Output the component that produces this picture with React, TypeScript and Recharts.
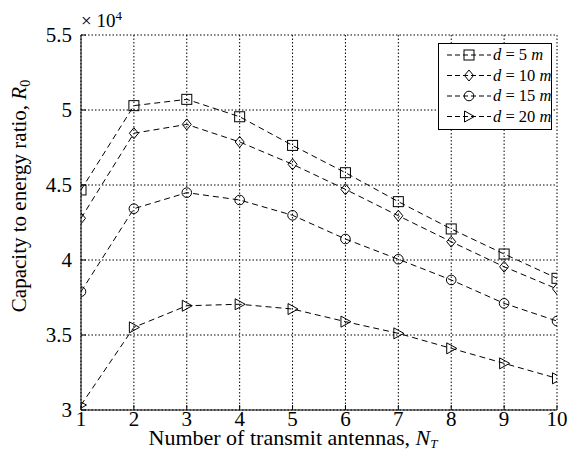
import React from 'react';
import { LineChart, Line, XAxis, YAxis, CartesianGrid, Customized } from 'recharts';

// Number of transmit antennas N_T
const antennas = [1, 2, 3, 4, 5, 6, 7, 8, 9, 10];

// Capacity-to-energy ratio R_0 for each transmitter distance d
const capD5 = [44670, 50290, 50710, 49550, 47640, 45820, 43890, 42070, 40400, 38780];
const capD10 = [42780, 48450, 49040, 47870, 46380, 44710, 42950, 41220, 39550, 38070];
const capD15 = [37890, 43420, 44490, 44000, 42980, 41400, 40050, 38670, 37110, 35930];
const capD20 = [30330, 35510, 36950, 37050, 36730, 35890, 35110, 34110, 33110, 32110];

const distances = [5, 10, 15, 20];
const yTicks = [30000, 35000, 40000, 45000, 50000, 55000];

const data = antennas.map((n, i) => ({
  n,
  d5: capD5[i],
  d10: capD10[i],
  d15: capD15[i],
  d20: capD20[i],
}));

const SERIF = { fontFamily: '"Liberation Serif", "DejaVu Serif", "Times New Roman", Times, serif' };
const INK = '#000';
const DASH = '6 4';

type MarkerKind = 'square' | 'diamond' | 'circle' | 'triangle';

function Marker({ kind, cx, cy }: { kind: MarkerKind; cx: number; cy: number }) {
  const common = { fill: 'none', stroke: INK, strokeWidth: 1 };
  if (kind === 'square') return <rect x={cx - 5} y={cy - 5} width={10} height={10} {...common} />;
  if (kind === 'diamond')
    return (
      <polygon
        points={`${cx},${cy - 5.5} ${cx + 4.5},${cy} ${cx},${cy + 5.5} ${cx - 4.5},${cy}`}
        {...common}
      />
    );
  if (kind === 'circle') return <circle cx={cx} cy={cy} r={4.8} {...common} />;
  return (
    <polygon
      points={`${cx - 4.5},${cy - 5.5} ${cx - 4.5},${cy + 5.5} ${cx + 5.5},${cy}`}
      {...common}
    />
  );
}

const makeDot = (kind: MarkerKind) => (props: any) => {
  const { cx, cy, index } = props;
  if (cx == null || cy == null) return <g key={`m-${kind}-${index}`} />;
  return (
    <g key={`m-${kind}-${index}`}>
      <Marker kind={kind} cx={cx} cy={cy} />
    </g>
  );
};

const seriesDefs: { key: string; kind: MarkerKind; dist: number }[] = [
  { key: 'd5', kind: 'square', dist: distances[0] },
  { key: 'd10', kind: 'diamond', dist: distances[1] },
  { key: 'd15', kind: 'circle', dist: distances[2] },
  { key: 'd20', kind: 'triangle', dist: distances[3] },
];

// Bottom axis: label below, small tick pointing into the plot
const BottomTick = (props: any) => {
  const { x, y, payload } = props;
  return (
    <g>
      <line x1={x} y1={y} x2={x} y2={y - 5} stroke={INK} strokeWidth={1} />
      <text x={x} y={y + 16} textAnchor="middle" style={SERIF} fontSize={21} fill={INK}>
        {payload.value}
      </text>
    </g>
  );
};

// Left axis: label to the left, inward tick
const LeftTick = (props: any) => {
  const { x, y, payload } = props;
  return (
    <g>
      <line x1={x} y1={y} x2={x + 5} y2={y} stroke={INK} strokeWidth={1} />
      <text x={x - 9} y={y} dy="0.355em" textAnchor="end" style={SERIF} fontSize={21} fill={INK}>
        {payload.value / 10000}
      </text>
    </g>
  );
};

const TopTick = (props: any) => {
  const { x, y } = props;
  return <line x1={x} y1={y} x2={x} y2={y + 5} stroke={INK} strokeWidth={1} />;
};

const RightTick = (props: any) => {
  const { x, y } = props;
  return <line x1={x} y1={y} x2={x - 5} y2={y} stroke={INK} strokeWidth={1} />;
};

function LegendBox({ left, top }: { left: number; top: number }) {
  const rowY = [12, 32.5, 53, 73.5];
  return (
    <g transform={`translate(${left},${top})`}>
      <rect x={0.5} y={0.5} width={113} height={86} fill="#fff" stroke={INK} strokeWidth={1} />
      {seriesDefs.map((s, i) => (
        <g key={s.key}>
          <line
            x1={9}
            x2={53}
            y1={rowY[i]}
            y2={rowY[i]}
            stroke={INK}
            strokeWidth={1}
            strokeDasharray="5 3"
          />
          <Marker kind={s.kind} cx={31} cy={rowY[i]} />
          <text x={55} y={rowY[i]} dy="0.33em" style={SERIF} fontSize={16.5} fill={INK}>
            <tspan fontStyle="italic">d</tspan>
            <tspan>{` = ${s.dist} `}</tspan>
            <tspan fontStyle="italic">m</tspan>
          </text>
        </g>
      ))}
    </g>
  );
}

function Annotations() {
  return (
    <g fill={INK}>
      <text x={81} y={27} fontSize={19} style={SERIF}>
        <tspan>× 10</tspan>
        <tspan fontSize={13} dy={-7}>
          4
        </tspan>
      </text>
      <text
        x={26}
        y={196}
        fontSize={21}
        textAnchor="middle"
        style={SERIF}
        transform="rotate(-90 26 196)"
      >
        <tspan>Capacity to energy ratio, </tspan>
        <tspan fontStyle="italic">R</tspan>
        <tspan fontSize={14} dy={4}>
          0
        </tspan>
      </text>
      <text x={293} y={445} fontSize={22} textAnchor="middle" style={SERIF}>
        <tspan>Number of transmit antennas, </tspan>
        <tspan fontStyle="italic">N</tspan>
        <tspan fontStyle="italic" fontSize={13} dy={3}>
          T
        </tspan>
      </text>
      <LegendBox left={438} top={43} />
    </g>
  );
}

export default function App() {
  return (
    <div style={{ position: 'absolute', left: 0, top: 0, background: '#fff' }}>
      <LineChart
        width={573}
        height={450}
        data={data}
        margin={{ top: 35, right: 16, bottom: 0, left: 0 }}
      >
        <CartesianGrid stroke={INK} strokeWidth={1} strokeDasharray="1.5 2" />
        <XAxis
          dataKey="n"
          type="number"
          domain={[1, 10]}
          ticks={antennas}
          height={40}
          tickSize={0}
          tickMargin={0}
          tickLine={false}
          tick={BottomTick}
          axisLine={{ stroke: INK, strokeWidth: 1 }}
          allowDataOverflow
        />
        <XAxis
          xAxisId="top"
          orientation="top"
          dataKey="n"
          type="number"
          domain={[1, 10]}
          ticks={antennas}
          height={0}
          tickSize={0}
          tickMargin={0}
          tickLine={false}
          tick={TopTick}
          axisLine={{ stroke: INK, strokeWidth: 1 }}
          allowDataOverflow
        />
        <YAxis
          type="number"
          domain={[30000, 55000]}
          ticks={yTicks}
          width={81}
          tickSize={0}
          tickMargin={0}
          tickLine={false}
          tick={LeftTick}
          axisLine={{ stroke: INK, strokeWidth: 1 }}
          allowDataOverflow
        />
        <YAxis
          yAxisId="right"
          orientation="right"
          type="number"
          domain={[30000, 55000]}
          ticks={yTicks}
          width={0}
          tickSize={0}
          tickMargin={0}
          tickLine={false}
          tick={RightTick}
          axisLine={{ stroke: INK, strokeWidth: 1 }}
          allowDataOverflow
        />
        {seriesDefs.map((s) => (
          <Line
            key={s.key}
            type="linear"
            dataKey={s.key}
            stroke={INK}
            strokeWidth={1}
            strokeDasharray={DASH}
            dot={makeDot(s.kind)}
            activeDot={false}
            isAnimationActive={false}
          />
        ))}
        <Customized component={Annotations} />
      </LineChart>
    </div>
  );
}
